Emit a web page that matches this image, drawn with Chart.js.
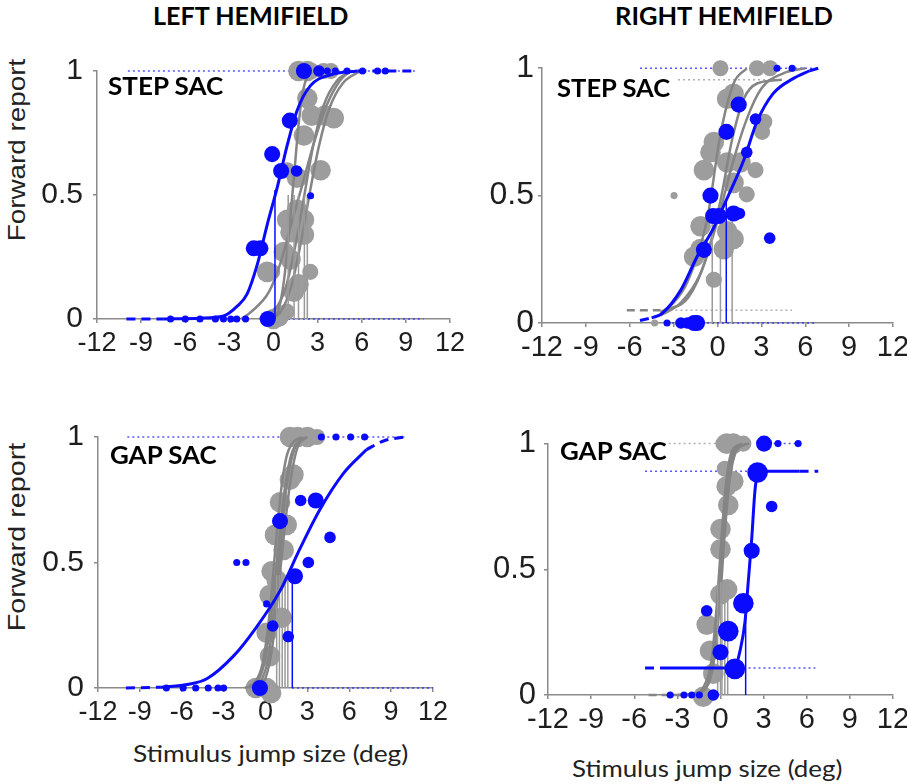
<!DOCTYPE html>
<html lang="en">
<head>
<meta charset="UTF-8">
<title>Forward report vs stimulus jump size</title>
<script src="https://cdn.jsdelivr.net/npm/chart.js"></script>
<style>
  body { margin: 0; background: #fff; width: 907px; height: 784px; position: relative; overflow: hidden; }
  .panel { position: absolute; }
  .lbl { position: absolute; white-space: nowrap; line-height: 1; color: #000; transform-origin: left top; }
  .bold { font-family: Lato, "Open Sans", sans-serif; font-weight: 700; }
  .xt { font-family: Lato, "Open Sans", sans-serif; color: #222; }
  .yt { font-family: "Liberation Sans", Arial, sans-serif; color: #222; }
</style>
</head>
<body>

<div class="panel"><canvas id="c-tl"></canvas></div>
<div class="panel"><canvas id="c-tr"></canvas></div>
<div class="panel"><canvas id="c-bl"></canvas></div>
<div class="panel"><canvas id="c-br"></canvas></div>

<script>
// shared ticks
const xTicks = [-12, -9, -6, -3, 0, 3, 6, 9, 12];
const yTicks = [0, 0.5, 1];

// dots are [x, y, weight]; weight ~ number of trials (1 small .. 4 large)

// ---- top left: STEP SAC, left hemifield
const tlBlueFit = [[-7.5, 0], [-5, 0.003], [-3.4, 0.012], [-2.5, 0.05], [-1.8, 0.10], [-1.1, 0.22], [-0.43, 0.38],
  [0.25, 0.53], [0.93, 0.70], [1.6, 0.84], [2.5, 0.94], [3.9, 0.985], [5.7, 1.0]];
const tlBlueTails = [[[-10, 0], [-7.5, 0]], [[5.7, 1], [9.6, 1]]];
const tlBlueThr = [0.1, 0.52];
const tlGrayFits = [
  [[-0.2, 0], [0.3, 0.03], [0.7, 0.15], [1.1, 0.38], [1.4, 0.58], [1.7, 0.78], [2.0, 0.92], [2.5, 1.0]],
  [[-2.2, 0], [-1.5, 0.03], [-0.3, 0.11], [0.5, 0.23], [1.2, 0.38], [2.0, 0.55], [2.8, 0.72], [3.6, 0.86], [4.5, 0.96], [5.2, 1.0]],
  [[-1, 0], [0, 0.03], [0.8, 0.12], [1.5, 0.30], [2.1, 0.50], [2.7, 0.70], [3.4, 0.86], [4.3, 0.96], [5.3, 1.0]],
  [[-0.3, 0], [0.5, 0.03], [1.2, 0.13], [1.9, 0.32], [2.5, 0.52], [3.1, 0.70], [3.8, 0.85], [4.7, 0.95], [5.9, 1.0]]
];
const tlGrayThr = [[1.0, 0.5], [1.4, 0.5], [1.7, 0.5], [2.1, 0.5], [2.3, 0.5]];
const tlBlueDots = [[1.11, 0.80, 3], [-0.09, 0.665, 3], [0.52, 0.597, 3], [1.57, 0.597, 2], [-1.34, 0.285, 3],
  [-0.89, 0.285, 3], [2.52, 0.497, 1], [-0.39, 0, 3],
  [-7.0, 0, 1], [-6.0, 0, 1], [-5.0, 0, 1], [-3.95, 0, 1], [-3.4, 0, 1], [-2.9, 0, 1], [-2.5, 0, 1], [-1.9, 0, 1],
  [2.07, 1, 3], [3.09, 1, 2], [3.66, 1, 1], [4.2, 1, 1], [5.0, 1, 1], [6.05, 1, 1], [7.07, 1, 1], [7.6, 1, 1]];
const tlGrayDots = [[1.7, 1, 4], [2.3, 1, 4], [2.6, 1, 3], [3.4, 1, 3], [3.9, 1, 3],
  [2.3, 0.89, 4], [2.6, 0.82, 4], [3.5, 0.82, 4], [4.1, 0.81, 4], [2.07, 0.74, 4],
  [3.2, 0.60, 4], [1.6, 0.57, 4], [0.93, 0.60, 3], [1.6, 0.44, 4], [0.93, 0.40, 4], [2.07, 0.40, 4],
  [1.16, 0.35, 4], [2.07, 0.34, 4], [0.7, 0.27, 4], [1.16, 0.24, 4], [-0.43, 0.19, 4], [-0.09, 0.19, 3],
  [2.5, 0.19, 3], [1.7, 0.14, 4], [1.38, 0.11, 4], [0.36, 0.01, 4], [0.9, 0.03, 3], [0.0, 0, 4]];
const tlBlueGuides = [[-9.9, 9.8, 1], [0.3, 10.2, 0]];
const tlGrayGuides = [];
const tlGrayTails = [];

// ---- top right: STEP SAC, right hemifield
const trBlueFit = [[-4.5, 0.02], [-3.8, 0.037], [-2.5, 0.13], [-1.4, 0.26], [-0.25, 0.375], [0.66, 0.49], [1.8, 0.64],
  [2.7, 0.79], [3.8, 0.90], [5.2, 0.96], [6.3, 0.99]];
const trBlueTails = [[[-5.3, 0.01], [-4.5, 0.02]], [[6.3, 0.99], [6.9, 1.0]]];
const trBlueThr = [0.6, 0.48];
const trGrayFits = [
  [[-3.9, 0.04], [-3.0, 0.08], [-2.07, 0.16], [-0.7, 0.41], [0.2, 0.74], [1.1, 0.94], [2.0, 1.0]],
  [[-3.5, 0.05], [-2, 0.10], [-0.8, 0.25], [0.2, 0.48], [1.0, 0.72], [1.8, 0.88], [2.7, 0.94], [4.4, 0.955]],
  [[-3.9, 0.03], [-2.5, 0.08], [-1.2, 0.19], [0, 0.40], [1.0, 0.62], [2.0, 0.80], [3.0, 0.92], [4.5, 0.98], [6, 1.0]]
];
const trGrayThr = [[-0.36, 0.45], [0.2, 0.45], [1.0, 0.45]];
const trBlueDots = [[1.45, 0.857, 3], [2.6, 0.80, 2], [0.61, 0.75, 3], [2.0, 0.67, 2], [-0.48, 0.50, 3],
  [-0.3, 0.42, 3], [0.1, 0.42, 3], [1.1, 0.43, 3], [1.5, 0.43, 2], [-0.93, 0.287, 3], [3.57, 0.333, 2],
  [-2.5, 0, 2], [-2.07, 0, 2], [-1.6, 0, 3], [-1.4, 0, 3], [-3.45, 0, 1], [4.07, 1, 1], [5.1, 1, 1]];
const trGrayDots = [[0.66, 0.88, 4], [1.1, 0.9, 4], [-0.25, 0.71, 4], [-0.48, 0.67, 4], [0.66, 0.63, 4],
  [1.57, 0.63, 4], [2.6, 0.60, 3], [-0.93, 0.60, 4], [1.1, 0.55, 4], [2.0, 0.505, 3], [-2.97, 0.50, 1],
  [3.05, 0.75, 3], [3.2, 0.79, 3], [-1.16, 0.38, 4], [0.66, 0.36, 4], [-1.16, 0.29, 4], [0.43, 0.29, 4],
  [-1.6, 0.26, 4], [1.1, 0.33, 4], [-0.25, 0.17, 3], [0.2, 1, 3], [2.7, 1, 3], [3.6, 1, 3], [-4.3, 0, 1]];
const trBlueGuides = [[-5.3, 6.5, 1], [-3.45, 6.8, 0]];
const trGrayGuides = [[-2.7, 4.4, 0.955], [-3.9, 5.1, 0.05]];
const trGrayTails = [[[-6.2, 0.05], [-3.9, 0.05]]];

// ---- bottom left: GAP SAC, left hemifield
const blBlueFit = [[-7.5, 0.003], [-5.5, 0.015], [-4.2, 0.037], [-2.3, 0.127], [-0.63, 0.244], [1.04, 0.387],
  [2.47, 0.555], [3.9, 0.711], [5.57, 0.854], [7.24, 0.95]];
const blBlueTails = [[[-10, 0], [-7.5, 0.003]], [[7.24, 0.95], [8.5, 0.985], [10, 1.0]]];
const blBlueThr = [1.92, 0.44];
const blGrayFits = [
  [[-1.5, 0], [-0.8, 0.02], [-0.2, 0.1], [0.3, 0.3], [0.7, 0.55], [1.1, 0.78], [1.5, 0.92], [2.0, 0.98], [2.6, 1.0]],
  [[-1.2, 0], [-0.5, 0.03], [0, 0.12], [0.5, 0.33], [0.9, 0.55], [1.3, 0.76], [1.8, 0.92], [2.3, 0.98], [2.9, 1.0]],
  [[-1.0, 0], [-0.3, 0.03], [0.2, 0.12], [0.7, 0.35], [1.1, 0.58], [1.5, 0.8], [2.0, 0.94], [2.6, 1.0]],
  [[-0.8, 0], [0, 0.04], [0.5, 0.17], [0.9, 0.38], [1.3, 0.6], [1.8, 0.83], [2.3, 0.96], [3.0, 1.0]]
];
const blGrayThr = [[0.8, 0.45], [1.0, 0.45], [1.2, 0.45], [1.4, 0.45], [1.6, 0.45]];
const blBlueDots = [[1.04, 0.665, 3], [2.52, 0.747, 2], [3.6, 0.747, 3], [4.62, 0.60, 2], [3.07, 0.50, 2],
  [2.11, 0.445, 3], [-2.06, 0.5, 1], [-1.4, 0.5, 1], [0.08, 0.335, 1], [0.52, 0.247, 2], [1.63, 0.205, 2],
  [-0.4, 0, 3], [-7.1, 0, 1], [-5.9, 0, 1], [-5.0, 0, 1], [-4.1, 0, 1], [-3.4, 0, 1], [-3.0, 0, 1],
  [4.0, 1, 1], [5.05, 1, 1], [6.1, 1, 1], [7.1, 1, 1]];
const blGrayDots = [[1.75, 1, 4], [2.3, 1, 4], [3.0, 1, 4], [3.7, 1, 3], [1.75, 0.83, 4], [2.0, 0.85, 4],
  [1.04, 0.74, 4], [1.52, 0.65, 4], [0.68, 0.61, 4], [1.3, 0.55, 4], [0.44, 0.465, 4], [0.8, 0.43, 4],
  [1.16, 0.28, 4], [0.3, 0.37, 4], [0.08, 0.22, 4], [0.32, 0.127, 4], [-0.7, 0, 4], [0.08, 0, 4], [0.4, -0.02, 4]];
const blBlueGuides = [[-9.9, 10, 1], [1.9, 12, 0]];
const blGrayGuides = [];
const blGrayTails = [];

// ---- bottom right: GAP SAC, right hemifield
const brBlueFit = [[-4.0, 0.107], [0.5, 0.107], [1.0, 0.11], [1.36, 0.176], [1.7, 0.29], [1.93, 0.45], [2.17, 0.62],
  [2.4, 0.815], [2.63, 0.885], [3.0, 0.89], [5.5, 0.89]];
const brBlueTails = [[[-5.25, 0.107], [-4.0, 0.107]], [[5.5, 0.89], [6.8, 0.89]]];
const brBlueThr = [1.75, 0.36];
const brGrayFits = [
  [[-3.5, 0], [-2, 0.0], [-1.2, 0.03], [-0.6, 0.15], [-0.2, 0.40], [0.1, 0.65], [0.4, 0.85], [0.8, 0.97], [1.5, 1.0]],
  [[-3, 0], [-1.5, 0.01], [-0.8, 0.06], [-0.3, 0.25], [0.1, 0.55], [0.4, 0.8], [0.8, 0.95], [1.5, 1.0]],
  [[-2.5, 0], [-1.2, 0.02], [-0.5, 0.12], [0, 0.4], [0.3, 0.65], [0.7, 0.88], [1.2, 0.98], [2, 1.0]],
  [[-2, 0], [-1, 0.03], [-0.4, 0.18], [0.05, 0.5], [0.4, 0.78], [0.9, 0.95], [1.8, 1.0]]
];
const brGrayThr = [[-0.2, 0.45], [0.0, 0.45], [0.1, 0.45], [0.3, 0.45], [0.5, 0.45]];
const brBlueDots = [[3.03, 1, 3], [4.0, 1, 1], [5.4, 1, 1], [2.58, 0.885, 4], [3.56, 0.75, 2], [2.17, 0.574, 3],
  [1.59, 0.365, 4], [0.54, 0.254, 4], [0.0, 0.17, 3], [1.0, 0.104, 4], [-0.96, 0.335, 2],
  [-3.5, 0, 1], [-2.54, 0, 1], [-2.0, 0, 1], [-1.47, 0, 1], [-0.5, 0, 2]];
const brGrayDots = [[0.43, 1, 4], [0.89, 1, 4], [1.59, 1, 3], [0.2, 1, 3], [0.43, 0.83, 4], [0.89, 0.85, 4],
  [0.3, 0.9, 3], [0.54, 0.756, 4], [0.0, 0.66, 4], [0.0, 0.58, 4], [0.0, 0.40, 4], [0.46, 0.42, 4],
  [-0.96, 0.28, 4], [-0.73, 0.176, 4], [-0.5, 0.085, 4], [-1.2, -0.007, 4]];
const brBlueGuides = [[-5.25, 2.6, 0.89], [1.6, 6.6, 0.107], [3.0, 5.6, 1]];
const brGrayGuides = [[-5.0, 0.3, 1]];
const brGrayTails = [[[-5.0, 0], [-3.6, 0]]];

const BLUE = '#0a0aff';
const GRAY_DOT = '#9d9d9d';
const GRAY_LINE = '#858585';

const pts = a => a.map(p => ({ x: p[0], y: p[1] }));
const rad = n => 1.3 + 2.25 * n;

function line(data, color, width, dash, order) {
  return { data: pts(data), showLine: true, borderColor: color, borderWidth: width, borderDash: dash || [],
    pointRadius: 0, cubicInterpolationMode: 'monotone', clip: false, order: order };
}
function dots(data, color, order) {
  return { data: pts(data), showLine: false, backgroundColor: color, borderWidth: 0,
    pointRadius: data.map(d => rad(d[2])), clip: false, order: order };
}

function makePanel(id, box, p) {
  const [left, top, w, h] = box;
  const padL = 60, padT = 22, padR = 22, padB = 42;
  const canvas = document.getElementById(id);
  const wrap = canvas.parentNode;
  const W = w + padL + padR, H = h + padT + padB;
  wrap.style.left = (left - padL) + 'px';
  wrap.style.top = (top - padT) + 'px';
  canvas.width = W; canvas.height = H;
  canvas.style.width = W + 'px'; canvas.style.height = H + 'px';

  const ds = [];
  p.blueGuides.forEach(g => ds.push(line([[g[0], g[2]], [g[1], g[2]]], 'rgba(30,30,255,0.75)', 1.5, [2, 3], 9)));
  p.grayGuides.forEach(g => ds.push(line([[g[0], g[2]], [g[1], g[2]]], '#b0b0b0', 1.5, [2, 3], 9)));
  p.grayTails.forEach(t => ds.push(line(t, GRAY_LINE, 2.5, [8, 5], 8)));
  ds.push(dots(p.grayDots, GRAY_DOT, 7));
  p.grayFits.forEach(f => ds.push(line(f, GRAY_LINE, 2.5, null, 6)));
  p.grayThr.forEach(t => ds.push(line([[t[0], 0], [t[0], t[1]]], '#9a9a9a', 1.5, null, 5)));
  p.blueTails.forEach(t => ds.push(line(t, BLUE, 3, [9, 6], 4)));
  ds.push(line([[p.blueThr[0], 0], [p.blueThr[0], p.blueThr[1]]], BLUE, 1.5, null, 3));
  ds.push(line(p.blueFit, BLUE, 3, null, 2));
  ds.push(dots(p.blueDots, BLUE, 1));

  new Chart(canvas, {
    type: 'scatter',
    data: { datasets: ds },
    options: {
      responsive: false,
      animation: false,
      devicePixelRatio: 1,
      layout: { padding: { left: 0, top: padT, right: padR, bottom: 0 } },
      plugins: { legend: { display: false }, tooltip: { enabled: false } },
      scales: {
        x: {
          type: 'linear', min: -12, max: 12,
          afterBuildTicks: s => { s.ticks = xTicks.map(v => ({ value: v })); },
          afterFit: s => { s.height = padB; },
          grid: { drawOnChartArea: false, tickLength: 4, color: '#8a8a8a', lineWidth: 1.5 },
          border: { color: '#8a8a8a', width: 1.5 },
          ticks: { autoSkip: false, maxRotation: 0, padding: 4, color: '#1e1e1e',
            font: { family: 'Liberation Sans', size: p.xFont }, callback: v => String(v) }
        },
        y: {
          type: 'linear', min: 0, max: 1,
          afterBuildTicks: s => { s.ticks = yTicks.map(v => ({ value: v })); },
          afterFit: s => { s.width = padL; },
          grid: { drawOnChartArea: false, tickLength: 4, color: '#8a8a8a', lineWidth: 1.5 },
          border: { color: '#8a8a8a', width: 1.5 },
          ticks: { padding: p.yPad, color: '#1e1e1e',
            font: { family: 'Liberation Sans', size: p.yFont }, callback: v => String(v) }
        }
      }
    }
  });
}

makePanel('c-tl', [97, 65, 353, 254], { xFont: 27, yFont: 30, yPad: 10,
  blueFit: tlBlueFit, blueTails: tlBlueTails, blueThr: tlBlueThr, grayFits: tlGrayFits, grayThr: tlGrayThr,
  blueDots: tlBlueDots, grayDots: tlGrayDots, blueGuides: tlBlueGuides, grayGuides: tlGrayGuides, grayTails: tlGrayTails });
makePanel('c-tr', [542, 67, 351, 256], { xFont: 29, yFont: 32, yPad: 4,
  blueFit: trBlueFit, blueTails: trBlueTails, blueThr: trBlueThr, grayFits: trGrayFits, grayThr: trGrayThr,
  blueDots: trBlueDots, grayDots: trGrayDots, blueGuides: trBlueGuides, grayGuides: trGrayGuides, grayTails: trGrayTails });
makePanel('c-bl', [98, 431, 335, 257], { xFont: 27, yFont: 30, yPad: 10,
  blueFit: blBlueFit, blueTails: blBlueTails, blueThr: blBlueThr, grayFits: blGrayFits, grayThr: blGrayThr,
  blueDots: blBlueDots, grayDots: blGrayDots, blueGuides: blBlueGuides, grayGuides: blGrayGuides, grayTails: blGrayTails });
makePanel('c-br', [548, 439, 345, 256], { xFont: 29, yFont: 31, yPad: 8,
  blueFit: brBlueFit, blueTails: brBlueTails, blueThr: brBlueThr, grayFits: brGrayFits, grayThr: brGrayThr,
  blueDots: brBlueDots, grayDots: brGrayDots, blueGuides: brBlueGuides, grayGuides: brGrayGuides, grayTails: brGrayTails });

// text labels: [text, class, left, capTop, targetWidth, fontSize]
const labels = [
  ['LEFT HEMIFIELD', 'bold', 153, 7, 195, 25],
  ['RIGHT HEMIFIELD', 'bold', 615, 7, 218, 25],
  ['STEP SAC', 'bold', 108, 78, 115, 24],
  ['STEP SAC', 'bold', 557, 80, 113, 24],
  ['GAP SAC', 'bold', 110, 447, 107, 24],
  ['GAP SAC', 'bold', 560, 443, 107, 24],
  ['Stimulus jump size (deg)', 'xt', 133, 746, 275, 23],
  ['Stimulus jump size (deg)', 'xt', 572, 761, 270, 23]
];
labels.forEach(([t, cls, x, capTop, tw, fs]) => {
  const el = document.createElement('div');
  el.className = 'lbl ' + cls;
  el.textContent = t;
  el.style.fontSize = fs + 'px';
  el.style.left = x + 'px';
  el.style.top = (capTop - 0.17 * fs) + 'px';
  document.body.appendChild(el);
  el.style.transform = 'scaleX(' + (tw / el.offsetWidth) + ')';
});

// rotated y titles: [centerX, centerY, length]
const yTitles = [[17, 150, 182], [17, 537, 188]];
yTitles.forEach(([cx, cy, len]) => {
  const el = document.createElement('div');
  el.className = 'lbl yt';
  el.textContent = 'Forward report';
  el.style.fontSize = '24px';
  el.style.transformOrigin = 'center center';
  el.style.left = cx + 'px';
  el.style.top = cy + 'px';
  document.body.appendChild(el);
  const k = len / el.offsetWidth;
  el.style.transform = 'translate(-50%,-50%) rotate(-90deg) scaleX(' + k + ')';
});
</script>
</body>
</html>
